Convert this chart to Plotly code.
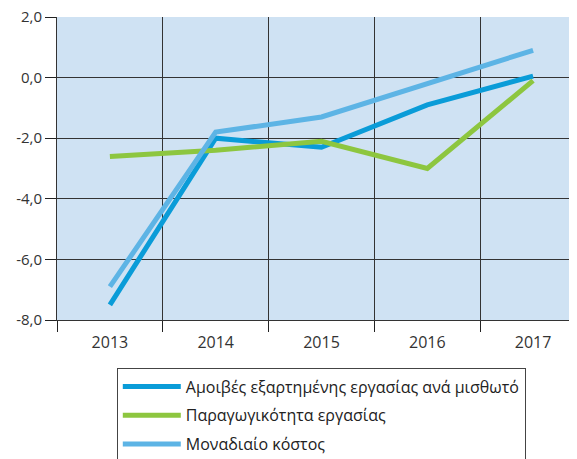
import plotly.graph_objects as go

years = ["2013", "2014", "2015", "2016", "2017"]
amoives = [-7.5, -2.0, -2.3, -0.9, 0.05]
paragogikotita = [-2.6, -2.4, -2.1, -3.0, -0.1]
monadiaio_kostos = [-6.9, -1.8, -1.3, -0.2, 0.9]

y_ticks = [-8, -6, -4, -2, 0, 2]
y_labels = ["-8,0", "-6,0", "-4,0", "-2,0", "0,0", "2,0"]

names = ["Αμοιβές εξαρτημένης εργασίας ανά μισθωτό",
         "Παραγωγικότητα εργασίας",
         "Μοναδιαίο κόστος"]
colors = ["#0a9cd8", "#8dc63f", "#5db4e5"]

fig = go.Figure()
for i, (vals, name, col) in enumerate(zip([amoives, paragogikotita, monadiaio_kostos], names, colors)):
    fig.add_trace(go.Scatter(x=years, y=vals, mode="lines", name=name,
                             legendgroup="g%d" % i,
                             line=dict(color=col, width=5)))

# page body has an 8px margin, so the figure is a bit smaller than the window
fig.update_layout(
    width=569, height=451,
    margin=dict(l=49, r=0, t=9, b=139, autoexpand=False),
    paper_bgcolor="white",
    plot_bgcolor="#cfe2f3",
    font=dict(family="Open Sans", size=16, color="#333333"),
    legend=dict(
        x=0.115, y=-0.16, xanchor="left", yanchor="top",
        bordercolor="#444444", borderwidth=1,
        tracegroupgap=5, itemwidth=58,
        font=dict(size=16, color="#222222"),
    ),
)

fig.update_xaxes(
    type="category", range=[-0.5, 4.415],
    tickson="boundaries", ticks="outside", ticklen=11, tickcolor="#222222",
    ticklabelstandoff=8,
    showgrid=True, gridcolor="#333333", gridwidth=1,
    showline=True, linecolor="#333333", linewidth=1,
    tickfont=dict(size=16, color="#333333"),
)
fig.update_yaxes(
    range=[-8, 2], tickvals=y_ticks, ticktext=y_labels,
    ticks="outside", ticklen=11, tickcolor="#222222",
    ticklabeloverflow="allow",
    showgrid=True, gridcolor="#333333", gridwidth=1,
    showline=True, linecolor="#333333", linewidth=1,
    zeroline=False,
    tickfont=dict(size=15, color="#333333"),
)

fig.write_html("out.html")
